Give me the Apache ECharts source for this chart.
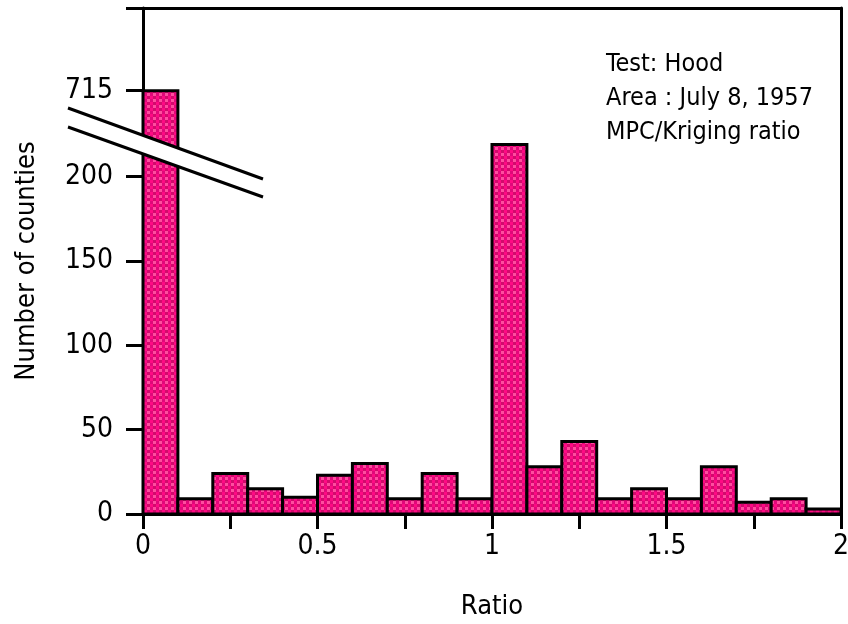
<!DOCTYPE html>
<html><head><meta charset="utf-8">
<script src="https://cdn.jsdelivr.net/npm/echarts@6/dist/echarts.min.js"></script>
<style>html,body{margin:0;padding:0;background:#fff}#c{width:848px;height:624px}</style>
</head><body><div id="c"></div>
<script>
// ---- data ----
const binEdges = [0, 0.1, 0.2, 0.3, 0.4, 0.5, 0.6, 0.7, 0.8, 0.9, 1.0, 1.1, 1.2, 1.3, 1.4, 1.5, 1.6, 1.7, 1.8, 1.9, 2.0];
const counts   = [715, 9, 24, 15, 10, 23, 30, 9, 24, 9, 219, 28, 43, 9, 15, 9, 28, 7, 9, 3];
const xTickValues = [0, 0.25, 0.5, 0.75, 1, 1.25, 1.5, 1.75, 2];
const xTickLabels = ['0', '', '0.5', '', '1', '', '1.5', '', '2'];
const yTickLabels = [0, 50, 100, 150, 200, 715];
const annotation = ['Test: Hood', 'Area : July 8, 1957', 'MPC/Kriging ratio'];
const xTitle = 'Ratio';
const yTitle = 'Number of counties';
// axis break: values above breakTo are drawn just above breakFrom
const breakFrom = 250, breakTo = 714;
function displayOf(v) { return v > breakTo ? breakFrom + (v - breakTo) : v; }

const FONT = '"Liberation Sans Narrow", "DejaVu Sans Condensed", "Liberation Sans", sans-serif';

// checkered pink fill
const pat = document.createElement('canvas');
pat.width = 6; pat.height = 6;
const pc = pat.getContext('2d');
pc.fillStyle = '#ff0a84'; pc.fillRect(0, 0, 6, 6);
pc.fillStyle = '#d10a6c'; pc.fillRect(3, 0, 3, 3);
pc.fillStyle = '#e0087a'; pc.fillRect(0, 3, 3, 3);
pc.fillStyle = '#ff4d9f'; pc.fillRect(3, 3, 3, 3);

const data = counts.map((c, i) => [binEdges[i], binEdges[i + 1], displayOf(c), c]);
const yTickPos = yTickLabels.map(displayOf);

const chart = echarts.init(document.getElementById('c'), null, {renderer: 'canvas'});
const axisLineStyle = {color: '#000', width: 3};
chart.setOption({
  animation: false,
  backgroundColor: '#fff',
  grid: {left: 143, right: 7, top: 8, bottom: 110, outerBoundsMode: 'none', containLabel: false},
  xAxis: [{
    type: 'value', min: 0, max: 2, interval: 0.25,
    axisLine: {show: true, onZero: false, lineStyle: axisLineStyle},
    axisTick: {show: true, length: 15, lineStyle: {color: '#000', width: 3}},
    axisLabel: {
      color: '#000', fontFamily: FONT, fontSize: 28, margin: 19,
      formatter: v => { const i = xTickValues.findIndex(t => Math.abs(t - v) < 1e-6); return i >= 0 ? xTickLabels[i] : ''; }
    },
    splitLine: {show: false},
    name: xTitle, nameLocation: 'middle', nameGap: 79,
    nameTextStyle: {color: '#000', fontFamily: FONT, fontSize: 27}
  }, {
    type: 'value', min: 0, max: 2, position: 'top',
    axisLine: {show: true, onZero: false, lineStyle: axisLineStyle},
    axisTick: {show: false}, axisLabel: {show: false}, splitLine: {show: false}
  }],
  yAxis: [{
    type: 'value', min: 0, max: 300, interval: 50,
    axisLine: {show: true, onZero: false, lineStyle: axisLineStyle},
    axisTick: {show: true, length: 17, customValues: yTickPos.concat([300]), lineStyle: {color: '#000', width: 3}},
    axisLabel: {
      color: '#000', fontFamily: FONT, fontSize: 28, margin: 30,
      customValues: yTickPos,
      formatter: v => { const i = yTickPos.indexOf(v); return i >= 0 ? String(yTickLabels[i]) : ''; }
    },
    splitLine: {show: false},
    name: yTitle, nameLocation: 'middle', nameGap: 103, nameRotate: 90,
    nameTextStyle: {color: '#000', fontFamily: FONT, fontSize: 27}
  }, {
    type: 'value', min: 0, max: 300, position: 'right',
    axisLine: {show: true, onZero: false, lineStyle: axisLineStyle},
    axisTick: {show: false}, axisLabel: {show: false}, splitLine: {show: false}
  }],
  series: [{
    type: 'custom',
    data: data,
    encode: {x: [0, 1], y: 2},
    renderItem: function (params, api) {
      const p0 = api.coord([api.value(0), api.value(2)]);
      const p1 = api.coord([api.value(1), 0]);
      return {
        type: 'rect',
        shape: {x: p0[0], y: p0[1], width: p1[0] - p0[0], height: p1[1] - p0[1]},
        style: {fill: {image: pat, repeat: 'repeat'}, stroke: '#000', lineWidth: 3}
      };
    },
    z: 1
  }],
  graphic: [
    {type: 'polygon', z: 100, shape: {points: [[68, 108], [263, 179], [263, 197], [68, 127]]}, style: {fill: '#fff'}},
    {type: 'line', z: 101, shape: {x1: 68, y1: 108, x2: 263, y2: 179}, style: {stroke: '#000', lineWidth: 3}},
    {type: 'line', z: 101, shape: {x1: 68, y1: 127, x2: 263, y2: 197}, style: {stroke: '#000', lineWidth: 3}},
    {type: 'text', z: 102, left: 606, top: 47, style: {text: annotation.join('\n'), fill: '#000', font: '25px ' + FONT, lineHeight: 34}}
  ]
});
</script></body></html>
